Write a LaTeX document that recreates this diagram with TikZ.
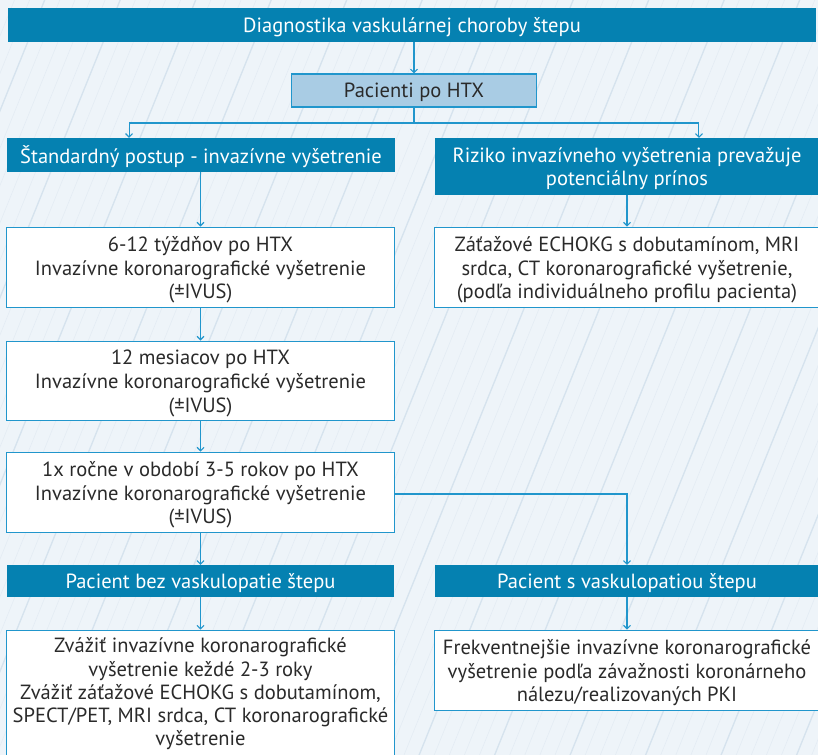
\documentclass[tikz,border=0pt]{standalone}
\usepackage{fontspec}
\setmainfont{PT Sans}
\usetikzlibrary{arrows.meta}
\definecolor{bandblue}{HTML}{0581B1}
\definecolor{paleblue}{HTML}{A9CCE4}
\definecolor{edgeblue}{HTML}{2196CC}
\definecolor{inkgrey}{HTML}{2A2A2A}
\definecolor{paper}{HTML}{EEF4F9}
\definecolor{gridline}{HTML}{E2EBF3}
\definecolor{gridmajor}{HTML}{D6E3EE}
\tikzset{
  every node/.style={font=\fontsize{20.6}{24}\selectfont, align=center, inner sep=0pt, text depth=0pt},
  band/.style={fill=bandblue, draw=none, text=white},
  lightbox/.style={fill=paleblue, draw=edgeblue, line width=1.2bp, text=inkgrey},
  textbox/.style={fill=white, draw=edgeblue, line width=1.2bp, text=inkgrey},
  link/.style={draw=edgeblue, line width=1.1bp, -{Straight Barb[length=3.5bp,width=7bp]}}
}
\begin{document}
\begin{tikzpicture}[x=1bp,y=-1bp]
  % paper background with a faint chart grid
  \fill[paper] (0,0) rectangle (818,755);
  \useasboundingbox (0,0) rectangle (818,755);
  \begin{scope}
    \clip (0,0) rectangle (818,755);
    \draw[gridline, line width=0.5bp, rotate around={-22:(409,377)}] (-500,-500) grid[step=14] (1400,1400);
    \draw[gridmajor, line width=1.3bp, rotate around={-22:(409,377)}] (-500,-500) grid[step=70] (1400,1400);
  \end{scope}

  % boxes
  \node[band, minimum width=812, minimum height=34] (title) at (412,25) {Diagnostika vaskulárnej choroby štepu};
  \node[lightbox, minimum width=246, minimum height=33] (pac) at (414,90.5) {Pacienti po HTX};

  \node[band, minimum width=390, minimum height=34] (std) at (201,155) {Štandardný postup - invazívne vyšetrenie};
  \node[band, minimum width=386, minimum height=57] (riz) at (627,166.5) {Riziko invazívneho vyšetrenia prevažuje\\potenciálny prínos};

  \node[textbox, minimum width=389, minimum height=81] (w6) at (200.5,267.5) {6-12 týždňov po HTX\\Invazívne koronarografické vyšetrenie\\(±IVUS)};
  \node[textbox, minimum width=386, minimum height=81] (zat) at (627,267.5) {Záťažové ECHOKG s dobutamínom, MRI\\srdca, CT koronarografické vyšetrenie,\\(podľa individuálneho profilu pacienta)};

  \node[textbox, minimum width=389, minimum height=80] (m12) at (200.5,381) {12 mesiacov po HTX\\Invazívne koronarografické vyšetrenie\\(±IVUS)};
  \node[textbox, minimum width=389, minimum height=81] (yr) at (200.5,492.5) {1x ročne v období 3-5 rokov po HTX\\Invazívne koronarografické vyšetrenie\\(±IVUS)};

  \node[band, minimum width=389, minimum height=32] (bez) at (200.5,581) {Pacient bez vaskulopatie štepu};
  \node[band, minimum width=386, minimum height=32] (svas) at (627,581) {Pacient s vaskulopatiou štepu};

  \node[textbox, minimum width=389, minimum height=130] (cons) at (200.5,695) {};
  \node[text=inkgrey, anchor=north, font=\fontsize{20.6}{23.4}\selectfont] (constext) at (200.5,637.5) {Zvážiť invazívne koronarografické\\vyšetrenie keždé 2-3 roky\\Zvážiť záťažové ECHOKG s dobutamínom,\\SPECT/PET, MRI srdca, CT koronarografické\\vyšetrenie};
  \node[textbox, minimum width=386, minimum height=81] (freq) at (627,670.5) {Frekventnejšie invazívne koronarografické\\vyšetrenie podľa závažnosti koronárneho\\nálezu/realizovaných PKI};

  % connectors
  \draw[link] (title.south -| pac.north) -- (pac.north);
  \coordinate (fork) at (414,123);
  \draw[link] (pac.south) -- (fork) -| ([xshift=123]std.north west);
  \draw[link] (fork) -| ([xshift=-121]riz.north east);
  \draw[link] (std.south -| w6.north) -- (w6.north);
  \draw[link] (riz.south) -- (zat.north);
  \draw[link] (w6.south) -- (m12.north);
  \draw[link] (m12.south) -- (yr.north);
  \draw[link] ([yshift=-1.5]yr.east) -| (svas.north);
  \draw[link] (yr.south) -- (bez.north);
  \draw[link] (bez.south) -- (cons.north);
  \draw[link] (svas.south) -- (freq.north);
\end{tikzpicture}
\end{document}
